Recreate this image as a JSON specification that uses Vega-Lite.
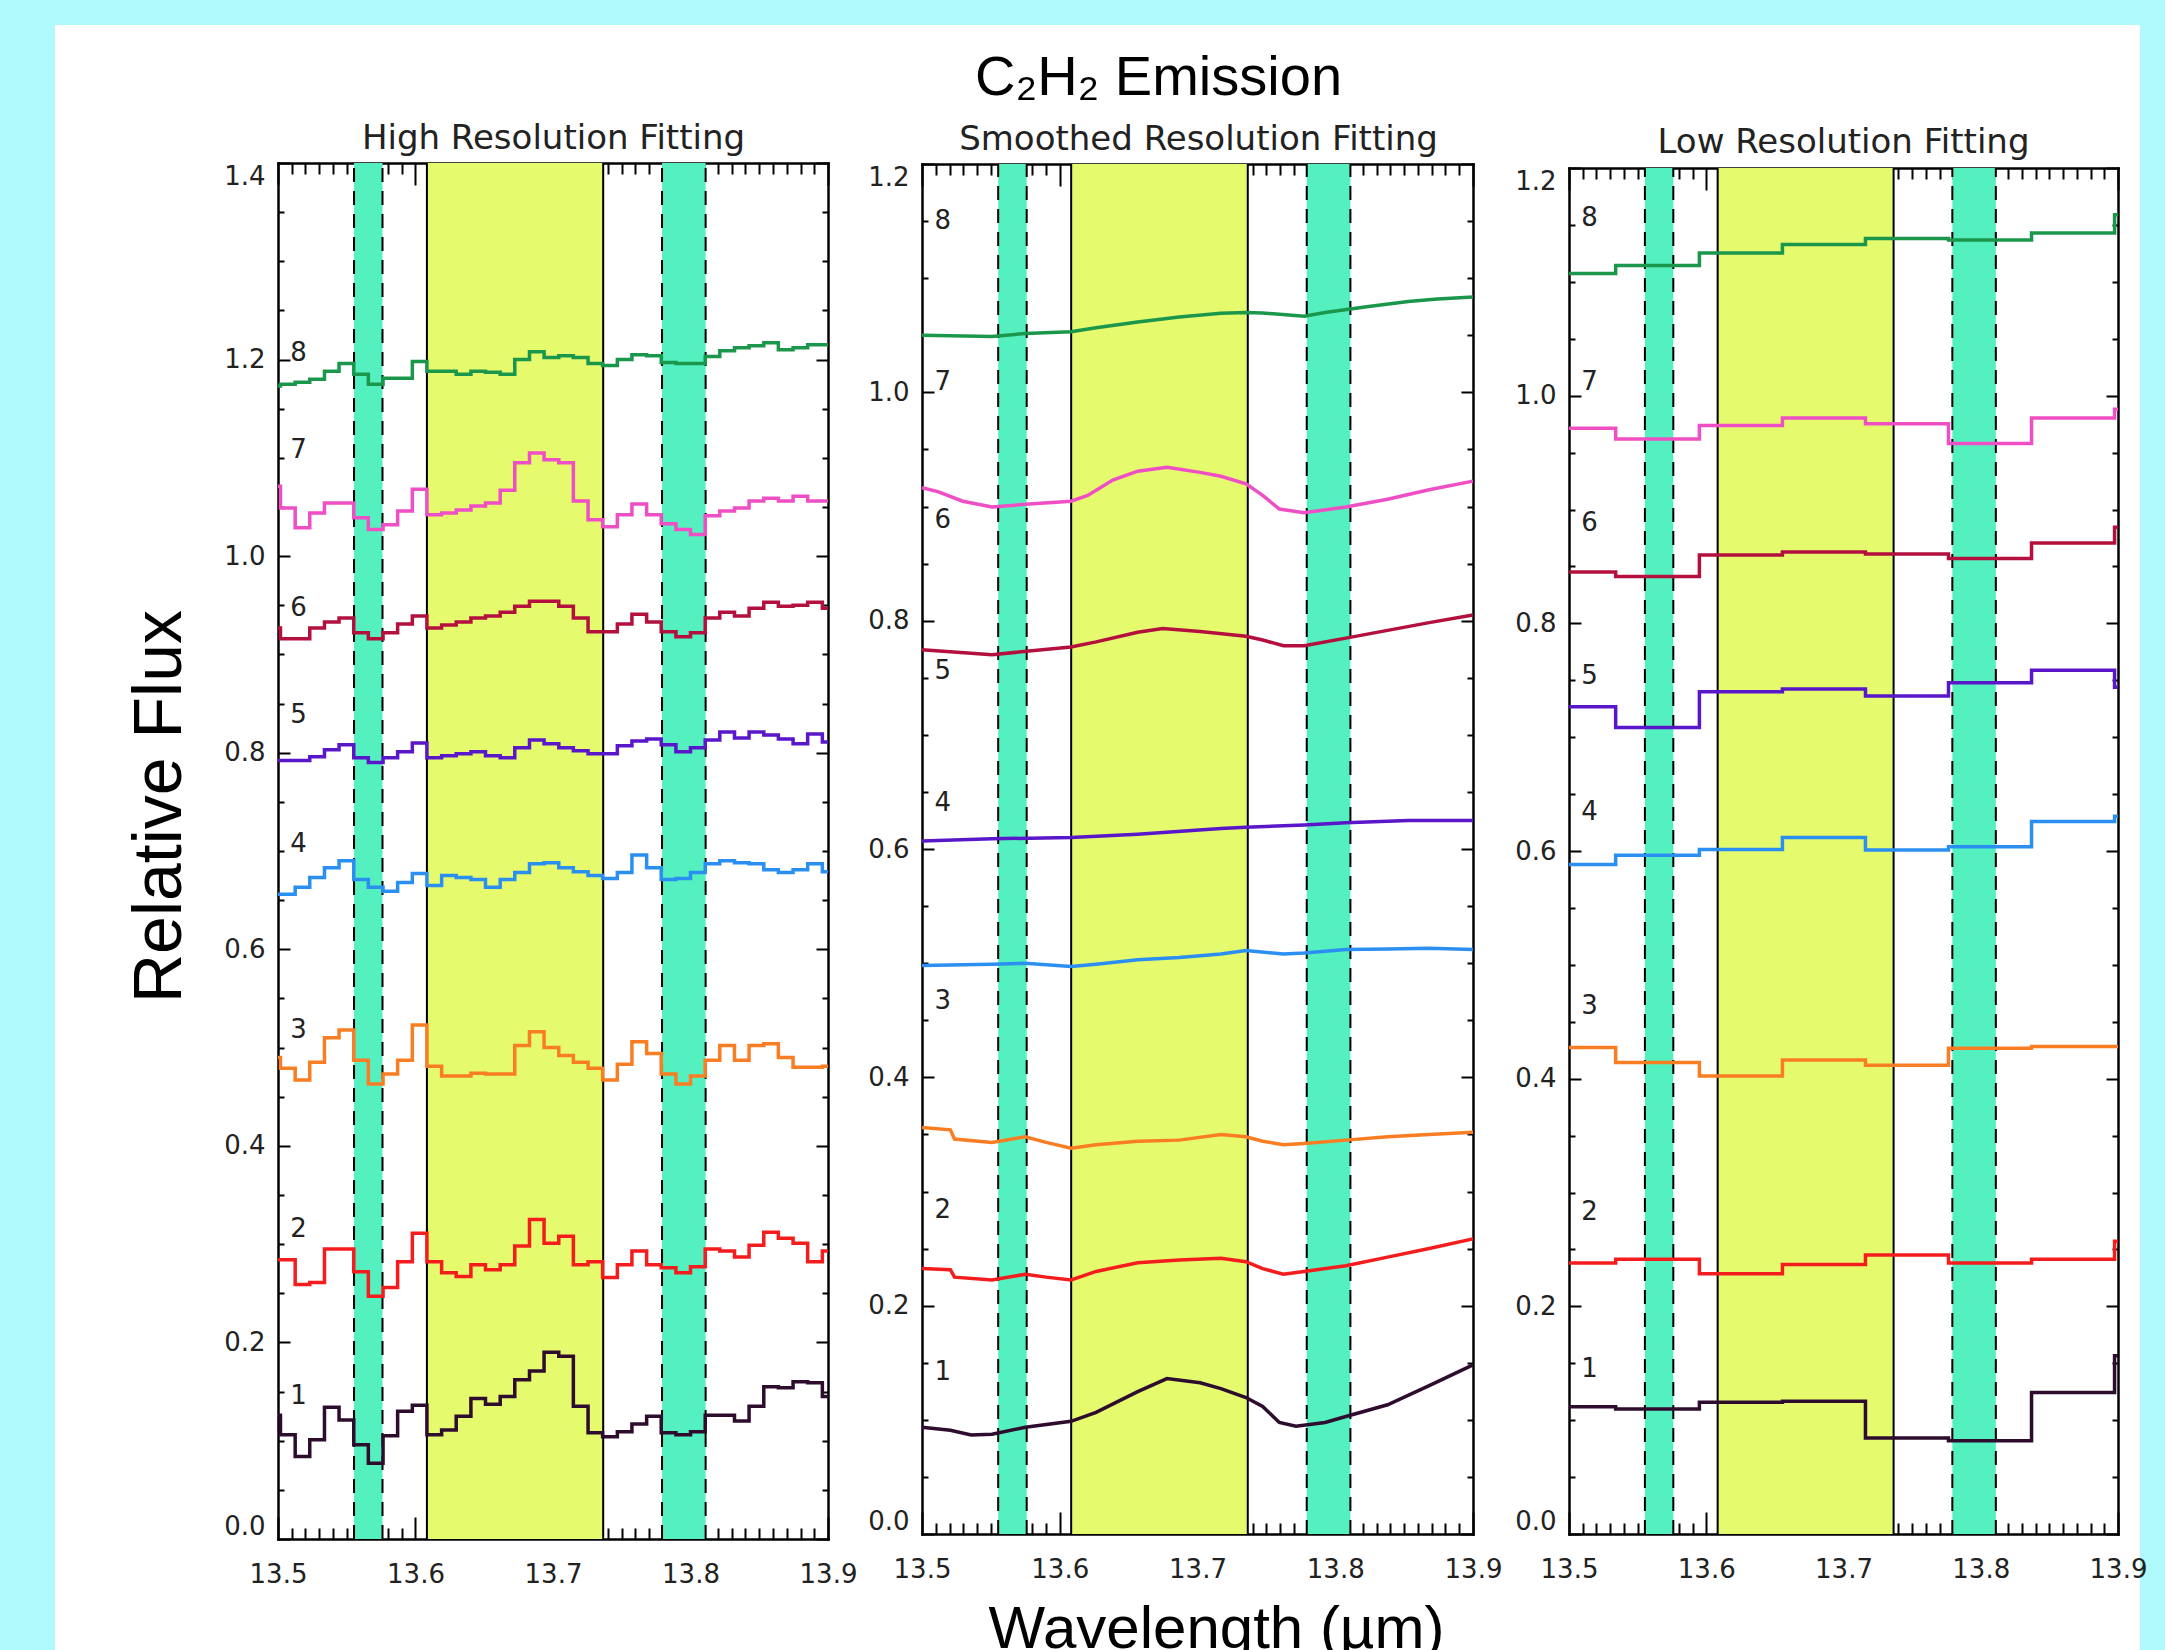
{
  "$schema": "https://vega.github.io/schema/vega-lite/v6.json",
  "background": "#b0fafd",
  "padding": {"left": 55, "top": 25, "right": 25, "bottom": 0},
  "autosize": {"type": "none"},
  "width": 2085,
  "height": 1625,
  "view": {"fill": "white", "stroke": null},
  "config": {
    "axis": {"grid": false},
    "font": "DejaVu Sans"
  },
  "datasets": {
    "hi": [
      {"wl":13.5,"s1":0.126,"s2":0.284,"s3":0.490,"s4":0.656,"s5":0.792,"s6":0.927,"s7":1.071,"s8":1.173},
      {"wl":13.5018,"s1":0.106,"s2":0.284,"s3":0.479,"s4":0.656,"s5":0.792,"s6":0.916,"s7":1.049,"s8":1.175},
      {"wl":13.5125,"s1":0.084,"s2":0.259,"s3":0.467,"s4":0.663,"s5":0.792,"s6":0.916,"s7":1.029,"s8":1.177},
      {"wl":13.5231,"s1":0.101,"s2":0.261,"s3":0.485,"s4":0.673,"s5":0.796,"s6":0.927,"s7":1.044,"s8":1.180},
      {"wl":13.5338,"s1":0.134,"s2":0.295,"s3":0.510,"s4":0.683,"s5":0.803,"s6":0.933,"s7":1.054,"s8":1.188},
      {"wl":13.5444,"s1":0.121,"s2":0.295,"s3":0.518,"s4":0.690,"s5":0.808,"s6":0.937,"s7":1.054,"s8":1.196},
      {"wl":13.5551,"s1":0.096,"s2":0.272,"s3":0.487,"s4":0.671,"s5":0.795,"s6":0.922,"s7":1.039,"s8":1.185},
      {"wl":13.5657,"s1":0.077,"s2":0.247,"s3":0.463,"s4":0.663,"s5":0.790,"s6":0.916,"s7":1.027,"s8":1.175},
      {"wl":13.5764,"s1":0.105,"s2":0.256,"s3":0.473,"s4":0.659,"s5":0.795,"s6":0.922,"s7":1.032,"s8":1.181},
      {"wl":13.587,"s1":0.130,"s2":0.282,"s3":0.487,"s4":0.668,"s5":0.801,"s6":0.931,"s7":1.046,"s8":1.181},
      {"wl":13.5977,"s1":0.136,"s2":0.311,"s3":0.523,"s4":0.677,"s5":0.810,"s6":0.939,"s7":1.068,"s8":1.198},
      {"wl":13.6083,"s1":0.106,"s2":0.282,"s3":0.481,"s4":0.665,"s5":0.795,"s6":0.927,"s7":1.042,"s8":1.188},
      {"wl":13.619,"s1":0.111,"s2":0.271,"s3":0.471,"s4":0.675,"s5":0.797,"s6":0.930,"s7":1.044,"s8":1.188},
      {"wl":13.6296,"s1":0.125,"s2":0.267,"s3":0.471,"s4":0.673,"s5":0.799,"s6":0.933,"s7":1.047,"s8":1.185},
      {"wl":13.6403,"s1":0.143,"s2":0.279,"s3":0.474,"s4":0.671,"s5":0.801,"s6":0.937,"s7":1.051,"s8":1.188},
      {"wl":13.6509,"s1":0.137,"s2":0.274,"s3":0.473,"s4":0.663,"s5":0.797,"s6":0.939,"s7":1.054,"s8":1.187},
      {"wl":13.6616,"s1":0.145,"s2":0.279,"s3":0.473,"s4":0.671,"s5":0.795,"s6":0.943,"s7":1.067,"s8":1.185},
      {"wl":13.6722,"s1":0.162,"s2":0.298,"s3":0.502,"s4":0.678,"s5":0.805,"s6":0.949,"s7":1.095,"s8":1.200},
      {"wl":13.6829,"s1":0.171,"s2":0.325,"s3":0.516,"s4":0.687,"s5":0.813,"s6":0.954,"s7":1.105,"s8":1.208},
      {"wl":13.6935,"s1":0.190,"s2":0.301,"s3":0.500,"s4":0.688,"s5":0.809,"s6":0.954,"s7":1.098,"s8":1.202},
      {"wl":13.7042,"s1":0.186,"s2":0.308,"s3":0.492,"s4":0.683,"s5":0.805,"s6":0.949,"s7":1.095,"s8":1.204},
      {"wl":13.7148,"s1":0.135,"s2":0.279,"s3":0.485,"s4":0.679,"s5":0.802,"s6":0.937,"s7":1.056,"s8":1.202},
      {"wl":13.7255,"s1":0.108,"s2":0.282,"s3":0.479,"s4":0.675,"s5":0.799,"s6":0.923,"s7":1.037,"s8":1.196},
      {"wl":13.7361,"s1":0.104,"s2":0.266,"s3":0.467,"s4":0.672,"s5":0.799,"s6":0.923,"s7":1.030,"s8":1.194},
      {"wl":13.7468,"s1":0.109,"s2":0.279,"s3":0.483,"s4":0.678,"s5":0.807,"s6":0.931,"s7":1.042,"s8":1.200},
      {"wl":13.7574,"s1":0.117,"s2":0.293,"s3":0.506,"s4":0.696,"s5":0.812,"s6":0.941,"s7":1.053,"s8":1.205},
      {"wl":13.7681,"s1":0.125,"s2":0.279,"s3":0.494,"s4":0.683,"s5":0.814,"s6":0.933,"s7":1.042,"s8":1.204},
      {"wl":13.7787,"s1":0.108,"s2":0.276,"s3":0.473,"s4":0.671,"s5":0.808,"s6":0.923,"s7":1.033,"s8":1.197},
      {"wl":13.7894,"s1":0.106,"s2":0.271,"s3":0.463,"s4":0.672,"s5":0.801,"s6":0.918,"s7":1.027,"s8":1.196},
      {"wl":13.8,"s1":0.109,"s2":0.277,"s3":0.471,"s4":0.678,"s5":0.805,"s6":0.922,"s7":1.022,"s8":1.196},
      {"wl":13.8107,"s1":0.126,"s2":0.295,"s3":0.487,"s4":0.687,"s5":0.813,"s6":0.937,"s7":1.041,"s8":1.203},
      {"wl":13.8213,"s1":0.126,"s2":0.293,"s3":0.502,"s4":0.690,"s5":0.821,"s6":0.943,"s7":1.046,"s8":1.209},
      {"wl":13.832,"s1":0.120,"s2":0.287,"s3":0.487,"s4":0.688,"s5":0.815,"s6":0.939,"s7":1.049,"s8":1.212},
      {"wl":13.8426,"s1":0.135,"s2":0.299,"s3":0.502,"s4":0.687,"s5":0.821,"s6":0.947,"s7":1.056,"s8":1.214},
      {"wl":13.8533,"s1":0.155,"s2":0.312,"s3":0.504,"s4":0.681,"s5":0.818,"s6":0.953,"s7":1.059,"s8":1.217},
      {"wl":13.8639,"s1":0.154,"s2":0.306,"s3":0.490,"s4":0.678,"s5":0.814,"s6":0.949,"s7":1.056,"s8":1.210},
      {"wl":13.8746,"s1":0.160,"s2":0.301,"s3":0.480,"s4":0.681,"s5":0.809,"s6":0.950,"s7":1.061,"s8":1.212},
      {"wl":13.8852,"s1":0.159,"s2":0.282,"s3":0.480,"s4":0.687,"s5":0.819,"s6":0.953,"s7":1.056,"s8":1.215},
      {"wl":13.8959,"s1":0.145,"s2":0.293,"s3":0.481,"s4":0.679,"s5":0.811,"s6":0.947,"s7":1.056,"s8":1.215},
      {"wl":13.9,"s1":0.145,"s2":0.293,"s3":0.481,"s4":0.679,"s5":0.811,"s6":0.947,"s7":1.056,"s8":1.215}
    ],
    "lo": [
      {"wl":13.5,"s1":0.1118,"s2":0.2381,"s3":0.4273,"s4":0.5882,"s5":0.7267,"s6":0.8451,"s7":0.9714,"s8":1.1073},
      {"wl":13.534,"s1":0.1099,"s2":0.2414,"s3":0.4141,"s4":0.5962,"s5":0.7086,"s6":0.8412,"s7":0.962,"s8":1.1143},
      {"wl":13.595,"s1":0.1157,"s2":0.2286,"s3":0.4024,"s4":0.6014,"s5":0.74,"s6":0.86,"s7":0.9737,"s8":1.1253},
      {"wl":13.6555,"s1":0.1166,"s2":0.2367,"s3":0.4165,"s4":0.6118,"s5":0.7424,"s6":0.8627,"s7":0.9804,"s8":1.1327},
      {"wl":13.716,"s1":0.0843,"s2":0.2452,"s3":0.4118,"s4":0.6009,"s5":0.7361,"s6":0.8608,"s7":0.9753,"s8":1.138},
      {"wl":13.7765,"s1":0.0819,"s2":0.2381,"s3":0.4268,"s4":0.6038,"s5":0.7478,"s6":0.8569,"s7":0.958,"s8":1.1367},
      {"wl":13.837,"s1":0.1243,"s2":0.2414,"s3":0.4282,"s4":0.6259,"s5":0.7588,"s6":0.8706,"s7":0.9804,"s8":1.143},
      {"wl":13.8975,"s1":0.1566,"s2":0.2571,"s3":0.4282,"s4":0.6306,"s5":0.7439,"s6":0.8843,"s7":0.988,"s8":1.159},
      {"wl":13.9,"s1":0.1566,"s2":0.2571,"s3":0.4282,"s4":0.6306,"s5":0.7439,"s6":0.8843,"s7":0.988,"s8":1.159}
    ],
    "sm": [
      {"series":"s8","wl":13.5,"flux":1.05},{"series":"s8","wl":13.5508,"flux":1.049},{"series":"s8","wl":13.575,"flux":1.0515},{"series":"s8","wl":13.6082,"flux":1.053},{"series":"s8","wl":13.6264,"flux":1.0565},{"series":"s8","wl":13.6566,"flux":1.0616},{"series":"s8","wl":13.6868,"flux":1.066},{"series":"s8","wl":13.717,"flux":1.0693},{"series":"s8","wl":13.7352,"flux":1.07},{"series":"s8","wl":13.7473,"flux":1.0695},{"series":"s8","wl":13.7775,"flux":1.0667},{"series":"s8","wl":13.7926,"flux":1.07},{"series":"s8","wl":13.8228,"flux":1.075},{"series":"s8","wl":13.853,"flux":1.0795},{"series":"s8","wl":13.8742,"flux":1.0818},{"series":"s8","wl":13.9,"flux":1.0835},
      {"series":"s7","wl":13.5,"flux":0.9164},{"series":"s7","wl":13.5115,"flux":0.913},{"series":"s7","wl":13.5296,"flux":0.9046},{"series":"s7","wl":13.5508,"flux":0.8995},{"series":"s7","wl":13.575,"flux":0.9019},{"series":"s7","wl":13.6082,"flux":0.9046},{"series":"s7","wl":13.6203,"flux":0.9097},{"series":"s7","wl":13.6385,"flux":0.9232},{"series":"s7","wl":13.6566,"flux":0.9309},{"series":"s7","wl":13.6778,"flux":0.9343},{"series":"s7","wl":13.7019,"flux":0.9299},{"series":"s7","wl":13.717,"flux":0.9265},{"series":"s7","wl":13.7352,"flux":0.9198},{"series":"s7","wl":13.7473,"flux":0.9097},{"series":"s7","wl":13.7594,"flux":0.8978},{"series":"s7","wl":13.7775,"flux":0.8945},{"series":"s7","wl":13.8077,"flux":0.8995},{"series":"s7","wl":13.838,"flux":0.9063},{"series":"s7","wl":13.8682,"flux":0.9147},{"series":"s7","wl":13.9,"flux":0.9222},
      {"series":"s6","wl":13.5,"flux":0.7746},{"series":"s6","wl":13.5508,"flux":0.7702},{"series":"s6","wl":13.6082,"flux":0.777},{"series":"s6","wl":13.6264,"flux":0.7814},{"series":"s6","wl":13.6566,"flux":0.7898},{"series":"s6","wl":13.6747,"flux":0.7932},{"series":"s6","wl":13.7019,"flux":0.7905},{"series":"s6","wl":13.7352,"flux":0.7864},{"series":"s6","wl":13.7473,"flux":0.7831},{"series":"s6","wl":13.7624,"flux":0.778},{"series":"s6","wl":13.7775,"flux":0.778},{"series":"s6","wl":13.8077,"flux":0.7847},{"series":"s6","wl":13.838,"flux":0.7915},{"series":"s6","wl":13.8682,"flux":0.7983},{"series":"s6","wl":13.9,"flux":0.805},
      {"series":"s5","wl":13.5,"flux":0.607},{"series":"s5","wl":13.5508,"flux":0.609},{"series":"s5","wl":13.6082,"flux":0.61},{"series":"s5","wl":13.6566,"flux":0.613},{"series":"s5","wl":13.717,"flux":0.618},{"series":"s5","wl":13.7352,"flux":0.619},{"series":"s5","wl":13.7775,"flux":0.621},{"series":"s5","wl":13.8077,"flux":0.623},{"series":"s5","wl":13.853,"flux":0.625},{"series":"s5","wl":13.9,"flux":0.625},
      {"series":"s4","wl":13.5,"flux":0.498},{"series":"s4","wl":13.5508,"flux":0.499},{"series":"s4","wl":13.575,"flux":0.5},{"series":"s4","wl":13.6082,"flux":0.497},{"series":"s4","wl":13.6264,"flux":0.499},{"series":"s4","wl":13.6566,"flux":0.503},{"series":"s4","wl":13.6868,"flux":0.505},{"series":"s4","wl":13.717,"flux":0.508},{"series":"s4","wl":13.7352,"flux":0.511},{"series":"s4","wl":13.7624,"flux":0.508},{"series":"s4","wl":13.7775,"flux":0.509},{"series":"s4","wl":13.8077,"flux":0.512},{"series":"s4","wl":13.838,"flux":0.5125},{"series":"s4","wl":13.8682,"flux":0.513},{"series":"s4","wl":13.9,"flux":0.512},
      {"series":"s3","wl":13.5,"flux":0.356},{"series":"s3","wl":13.5206,"flux":0.354},{"series":"s3","wl":13.5236,"flux":0.346},{"series":"s3","wl":13.5508,"flux":0.343},{"series":"s3","wl":13.575,"flux":0.348},{"series":"s3","wl":13.5901,"flux":0.343},{"series":"s3","wl":13.6082,"flux":0.338},{"series":"s3","wl":13.6264,"flux":0.341},{"series":"s3","wl":13.6566,"flux":0.344},{"series":"s3","wl":13.6868,"flux":0.345},{"series":"s3","wl":13.717,"flux":0.35},{"series":"s3","wl":13.7352,"flux":0.348},{"series":"s3","wl":13.7473,"flux":0.344},{"series":"s3","wl":13.7624,"flux":0.341},{"series":"s3","wl":13.7775,"flux":0.342},{"series":"s3","wl":13.8077,"flux":0.345},{"series":"s3","wl":13.838,"flux":0.348},{"series":"s3","wl":13.8682,"flux":0.35},{"series":"s3","wl":13.9,"flux":0.352},
      {"series":"s2","wl":13.5,"flux":0.2325},{"series":"s2","wl":13.5206,"flux":0.2315},{"series":"s2","wl":13.5236,"flux":0.225},{"series":"s2","wl":13.5508,"flux":0.2225},{"series":"s2","wl":13.575,"flux":0.2275},{"series":"s2","wl":13.5901,"flux":0.225},{"series":"s2","wl":13.6082,"flux":0.2225},{"series":"s2","wl":13.6143,"flux":0.225},{"series":"s2","wl":13.6264,"flux":0.23},{"series":"s2","wl":13.6566,"flux":0.2375},{"series":"s2","wl":13.6868,"flux":0.24},{"series":"s2","wl":13.717,"flux":0.2415},{"series":"s2","wl":13.7352,"flux":0.2385},{"series":"s2","wl":13.7473,"flux":0.2325},{"series":"s2","wl":13.7624,"flux":0.2275},{"series":"s2","wl":13.7775,"flux":0.23},{"series":"s2","wl":13.8077,"flux":0.235},{"series":"s2","wl":13.838,"flux":0.2425},{"series":"s2","wl":13.8682,"flux":0.25},{"series":"s2","wl":13.9,"flux":0.2585},
      {"series":"s1","wl":13.5,"flux":0.0935},{"series":"s1","wl":13.5206,"flux":0.0909},{"series":"s1","wl":13.5357,"flux":0.0868},{"series":"s1","wl":13.5508,"flux":0.0873},{"series":"s1","wl":13.575,"flux":0.0935},{"series":"s1","wl":13.6082,"flux":0.0987},{"series":"s1","wl":13.6264,"flux":0.1065},{"series":"s1","wl":13.6566,"flux":0.1247},{"series":"s1","wl":13.6778,"flux":0.1361},{"series":"s1","wl":13.7019,"flux":0.1325},{"series":"s1","wl":13.717,"flux":0.1273},{"series":"s1","wl":13.7352,"flux":0.1195},{"series":"s1","wl":13.7473,"flux":0.1117},{"series":"s1","wl":13.7594,"flux":0.0977},{"series":"s1","wl":13.7715,"flux":0.0945},{"series":"s1","wl":13.7926,"flux":0.0977},{"series":"s1","wl":13.8077,"flux":0.1029},{"series":"s1","wl":13.838,"flux":0.1132},{"series":"s1","wl":13.8682,"flux":0.1299},{"series":"s1","wl":13.9,"flux":0.1481}
    ],
    "bands": [
      {"kind":"emission","start":13.6083,"end":13.7365},
      {"kind":"continuum","start":13.5553,"end":13.576},
      {"kind":"continuum","start":13.7793,"end":13.811}
    ],
    "edges": [
      {"wl":13.6083,"style":"solid"},{"wl":13.7365,"style":"solid"},
      {"wl":13.5553,"style":"dashed"},{"wl":13.576,"style":"dashed"},
      {"wl":13.7793,"style":"dashed"},{"wl":13.811,"style":"dashed"}
    ],
    "labels": [
      {"panel":"hi","label":"1","wl":13.515,"flux":0.146},{"panel":"hi","label":"2","wl":13.515,"flux":0.315},{"panel":"hi","label":"3","wl":13.515,"flux":0.518},{"panel":"hi","label":"4","wl":13.515,"flux":0.707},{"panel":"hi","label":"5","wl":13.515,"flux":0.838},{"panel":"hi","label":"6","wl":13.515,"flux":0.947},{"panel":"hi","label":"7","wl":13.515,"flux":1.108},{"panel":"hi","label":"8","wl":13.515,"flux":1.207},
      {"panel":"sm","label":"1","wl":13.515,"flux":0.142},{"panel":"sm","label":"2","wl":13.515,"flux":0.284},{"panel":"sm","label":"3","wl":13.515,"flux":0.467},{"panel":"sm","label":"4","wl":13.515,"flux":0.64},{"panel":"sm","label":"5","wl":13.515,"flux":0.756},{"panel":"sm","label":"6","wl":13.515,"flux":0.888},{"panel":"sm","label":"7","wl":13.515,"flux":1.009},{"panel":"sm","label":"8","wl":13.515,"flux":1.15},
      {"panel":"lo","label":"1","wl":13.515,"flux":0.145},{"panel":"lo","label":"2","wl":13.515,"flux":0.283},{"panel":"lo","label":"3","wl":13.515,"flux":0.464},{"panel":"lo","label":"4","wl":13.515,"flux":0.634},{"panel":"lo","label":"5","wl":13.515,"flux":0.754},{"panel":"lo","label":"6","wl":13.515,"flux":0.888},{"panel":"lo","label":"7","wl":13.515,"flux":1.012},{"panel":"lo","label":"8","wl":13.515,"flux":1.156}
    ]
  },
  "resolve": {"scale": {"x": "independent", "y": "independent"}, "axis": {"x": "independent", "y": "independent"}},
  "layer": [
    {
      "data": {"name": "bands"},
      "mark": {"type": "rect"},
      "encoding": {
        "x": {"field": "start", "type": "quantitative", "scale": {"domain": [13.5, 13.9], "range": [223, 773], "nice": false, "zero": false}, "axis": null},
        "x2": {"field": "end"},
        "y": {"datum": 0, "type": "quantitative", "scale": {"domain": [0, 1.4], "range": [1514, 138], "nice": false, "zero": false}, "axis": null},
        "y2": {"datum": 1.4},
        "fill": {"field": "kind", "type": "nominal", "scale": {"domain": ["emission", "continuum"], "range": ["#e6fa6e", "#55f0c0"]}, "legend": null}
      }
    },
    {
      "data": {"name": "edges"},
      "mark": {"type": "rule", "color": "black", "strokeWidth": 2},
      "encoding": {
        "x": {"field": "wl", "type": "quantitative", "scale": {"domain": [13.5, 13.9], "range": [223, 773], "nice": false, "zero": false}, "axis": null},
        "y": {"datum": 0, "type": "quantitative", "scale": {"domain": [0, 1.4], "range": [1514, 138], "nice": false, "zero": false}, "axis": null},
        "y2": {"datum": 1.4},
        "strokeDash": {"field": "style", "type": "nominal", "scale": {"domain": ["solid", "dashed"], "range": [[1, 0], [14, 9]]}, "legend": null}
      }
    },
    {
      "data": {"name": "hi"},
      "transform": [{"fold": ["s1","s2","s3","s4","s5","s6","s7","s8"], "as": ["series", "flux"]}],
      "mark": {"type": "line", "interpolate": "step-after", "strokeWidth": 3.5},
      "encoding": {
        "x": {"field": "wl", "type": "quantitative", "scale": {"domain": [13.5, 13.9], "range": [223, 773], "nice": false, "zero": false},
          "axis": {"orient": "bottom", "offset": -111, "domain": true, "domainColor": "black", "domainWidth": 2.5, "domainCap": "square",
            "values": [13.5,13.51,13.52,13.53,13.54,13.55,13.56,13.57,13.58,13.59,13.6,13.61,13.62,13.63,13.64,13.65,13.66,13.67,13.68,13.69,13.7,13.71,13.72,13.73,13.74,13.75,13.76,13.77,13.78,13.79,13.8,13.81,13.82,13.83,13.84,13.85,13.86,13.87,13.88,13.89,13.9],
            "tickColor": "black", "tickWidth": 2,
            "tickSize": {"condition": {"test": "abs(datum.value*10-round(datum.value*10))<0.001", "value": -22}, "value": -11},
            "labelExpr": "abs(datum.value*10-round(datum.value*10))<0.001 ? format(datum.value,'.1f') : ''",
            "labelPadding": 44, "labelFont": "DejaVu Sans", "labelFontSize": 26, "labelColor": "#222", "labelFlush": false, "labelOverlap": false, "title": null}},
        "y": {"field": "flux", "type": "quantitative", "scale": {"domain": [0, 1.4], "range": [1514, 138], "nice": false, "zero": false},
          "axis": {"orient": "left", "offset": -223, "domain": true, "domainColor": "black", "domainWidth": 2.5, "domainCap": "square",
            "values": [0,0.05,0.1,0.15,0.2,0.25,0.3,0.35,0.4,0.45,0.5,0.55,0.6,0.65,0.7,0.75,0.8,0.85,0.9,0.95,1,1.05,1.1,1.15,1.2,1.25,1.3,1.35,1.4],
            "tickColor": "black", "tickWidth": 2,
            "tickSize": {"condition": {"test": "abs(datum.value*5-round(datum.value*5))<0.001", "value": -12}, "value": -6},
            "labelExpr": "abs(datum.value*5-round(datum.value*5))<0.001 ? format(datum.value,'.1f') : ''",
            "labelPadding": 25, "labelFont": "DejaVu Sans", "labelFontSize": 26, "labelColor": "#222", "labelFlush": true, "labelOverlap": false,
            "title": "Relative Flux", "titleFont": "Liberation Sans", "titleFontSize": 68, "titleFontWeight": "normal", "titleColor": "black",
            "titleAngle": 270, "titleX": -98, "titleY": 781, "titleBaseline": "alphabetic", "titleAlign": "center"}},
        "color": {"field": "series", "type": "nominal", "scale": {"domain": ["s1","s2","s3","s4","s5","s6","s7","s8"], "range": ["#2e0c2e","#f41c1c","#f97d22","#2b8ff2","#5a17c9","#b3103e","#ee4fc4","#1b974c"]}, "legend": null}
      }
    },
    {
      "data": {"name": "labels"},
      "transform": [{"filter": "datum.panel == 'hi'"}],
      "mark": {"type": "text", "font": "DejaVu Sans", "fontSize": 26, "align": "center", "baseline": "middle", "color": "#222"},
      "encoding": {
        "x": {"field": "wl", "type": "quantitative", "scale": {"domain": [13.5, 13.9], "range": [223, 773], "nice": false, "zero": false},
          "axis": {"orient": "top", "offset": -138, "domain": true, "domainColor": "black", "domainWidth": 2.5, "domainCap": "square",
            "values": [13.5,13.51,13.52,13.53,13.54,13.55,13.56,13.57,13.58,13.59,13.6,13.61,13.62,13.63,13.64,13.65,13.66,13.67,13.68,13.69,13.7,13.71,13.72,13.73,13.74,13.75,13.76,13.77,13.78,13.79,13.8,13.81,13.82,13.83,13.84,13.85,13.86,13.87,13.88,13.89,13.9],
            "tickColor": "black", "tickWidth": 2,
            "tickSize": {"condition": {"test": "abs(datum.value*10-round(datum.value*10))<0.001", "value": -22}, "value": -11},
            "labels": false,
            "title": "High Resolution Fitting", "titleFont": "DejaVu Sans", "titleFontSize": 34, "titleFontWeight": "normal", "titleColor": "#222",
            "titleX": 498, "titleY": -15, "titleBaseline": "alphabetic", "titleAlign": "center"}},
        "y": {"field": "flux", "type": "quantitative", "scale": {"domain": [0, 1.4], "range": [1514, 138], "nice": false, "zero": false},
          "axis": {"orient": "right", "offset": -1312, "domain": true, "domainColor": "black", "domainWidth": 2.5, "domainCap": "square",
            "values": [0,0.05,0.1,0.15,0.2,0.25,0.3,0.35,0.4,0.45,0.5,0.55,0.6,0.65,0.7,0.75,0.8,0.85,0.9,0.95,1,1.05,1.1,1.15,1.2,1.25,1.3,1.35,1.4],
            "tickColor": "black", "tickWidth": 2,
            "tickSize": {"condition": {"test": "abs(datum.value*5-round(datum.value*5))<0.001", "value": -12}, "value": -6},
            "labels": false, "title": null}},
        "text": {"field": "label", "type": "nominal"}
      }
    },
    {
      "data": {"name": "bands"},
      "mark": {"type": "rect"},
      "encoding": {
        "x": {"field": "start", "type": "quantitative", "scale": {"domain": [13.5, 13.9], "range": [867, 1418], "nice": false, "zero": false},
          "axis": {"orient": "top", "offset": -139, "domain": false, "ticks": false, "labels": false,
            "title": "C₂H₂ Emission", "titleFont": "Liberation Sans", "titleFontSize": 56, "titleFontWeight": "normal", "titleColor": "black",
            "titleX": 1103, "titleY": -70, "titleBaseline": "alphabetic", "titleAlign": "center"}},
        "x2": {"field": "end"},
        "y": {"datum": 0, "type": "quantitative", "scale": {"domain": [0, 1.2], "range": [1509, 139], "nice": false, "zero": false}, "axis": null},
        "y2": {"datum": 1.2},
        "fill": {"field": "kind", "type": "nominal", "scale": {"domain": ["emission", "continuum"], "range": ["#e6fa6e", "#55f0c0"]}, "legend": null}
      }
    },
    {
      "data": {"name": "edges"},
      "mark": {"type": "rule", "color": "black", "strokeWidth": 2},
      "encoding": {
        "x": {"field": "wl", "type": "quantitative", "scale": {"domain": [13.5, 13.9], "range": [867, 1418], "nice": false, "zero": false}, "axis": null},
        "y": {"datum": 0, "type": "quantitative", "scale": {"domain": [0, 1.2], "range": [1509, 139], "nice": false, "zero": false}, "axis": null},
        "y2": {"datum": 1.2},
        "strokeDash": {"field": "style", "type": "nominal", "scale": {"domain": ["solid", "dashed"], "range": [[1, 0], [14, 9]]}, "legend": null}
      }
    },
    {
      "data": {"name": "sm"},
      "mark": {"type": "line", "strokeWidth": 3.5},
      "encoding": {
        "x": {"field": "wl", "type": "quantitative", "scale": {"domain": [13.5, 13.9], "range": [867, 1418], "nice": false, "zero": false},
          "axis": {"orient": "bottom", "offset": -116, "domain": true, "domainColor": "black", "domainWidth": 2.5, "domainCap": "square",
            "values": [13.5,13.51,13.52,13.53,13.54,13.55,13.56,13.57,13.58,13.59,13.6,13.61,13.62,13.63,13.64,13.65,13.66,13.67,13.68,13.69,13.7,13.71,13.72,13.73,13.74,13.75,13.76,13.77,13.78,13.79,13.8,13.81,13.82,13.83,13.84,13.85,13.86,13.87,13.88,13.89,13.9],
            "tickColor": "black", "tickWidth": 2,
            "tickSize": {"condition": {"test": "abs(datum.value*10-round(datum.value*10))<0.001", "value": -22}, "value": -11},
            "labelExpr": "abs(datum.value*10-round(datum.value*10))<0.001 ? format(datum.value,'.1f') : ''",
            "labelPadding": 44, "labelFont": "DejaVu Sans", "labelFontSize": 26, "labelColor": "#222", "labelFlush": false, "labelOverlap": false,
            "title": "Wavelength (µm)", "titleFont": "Liberation Sans", "titleFontSize": 60, "titleFontWeight": "normal", "titleColor": "black",
            "titleX": 1161, "titleY": 66, "titleBaseline": "top", "titleAlign": "center"}},
        "y": {"field": "flux", "type": "quantitative", "scale": {"domain": [0, 1.2], "range": [1509, 139], "nice": false, "zero": false},
          "axis": {"orient": "left", "offset": -867, "domain": true, "domainColor": "black", "domainWidth": 2.5, "domainCap": "square",
            "values": [0,0.05,0.1,0.15,0.2,0.25,0.3,0.35,0.4,0.45,0.5,0.55,0.6,0.65,0.7,0.75,0.8,0.85,0.9,0.95,1,1.05,1.1,1.15,1.2],
            "tickColor": "black", "tickWidth": 2,
            "tickSize": {"condition": {"test": "abs(datum.value*5-round(datum.value*5))<0.001", "value": -12}, "value": -6},
            "labelExpr": "abs(datum.value*5-round(datum.value*5))<0.001 ? format(datum.value,'.1f') : ''",
            "labelPadding": 25, "labelFont": "DejaVu Sans", "labelFontSize": 26, "labelColor": "#222", "labelFlush": true, "labelOverlap": false, "title": null}},
        "color": {"field": "series", "type": "nominal", "scale": {"domain": ["s1","s2","s3","s4","s5","s6","s7","s8"], "range": ["#2e0c2e","#f41c1c","#f97d22","#2b8ff2","#5a17c9","#b3103e","#ee4fc4","#1b974c"]}, "legend": null}
      }
    },
    {
      "data": {"name": "labels"},
      "transform": [{"filter": "datum.panel == 'sm'"}],
      "mark": {"type": "text", "font": "DejaVu Sans", "fontSize": 26, "align": "center", "baseline": "middle", "color": "#222"},
      "encoding": {
        "x": {"field": "wl", "type": "quantitative", "scale": {"domain": [13.5, 13.9], "range": [867, 1418], "nice": false, "zero": false},
          "axis": {"orient": "top", "offset": -139, "domain": true, "domainColor": "black", "domainWidth": 2.5, "domainCap": "square",
            "values": [13.5,13.51,13.52,13.53,13.54,13.55,13.56,13.57,13.58,13.59,13.6,13.61,13.62,13.63,13.64,13.65,13.66,13.67,13.68,13.69,13.7,13.71,13.72,13.73,13.74,13.75,13.76,13.77,13.78,13.79,13.8,13.81,13.82,13.83,13.84,13.85,13.86,13.87,13.88,13.89,13.9],
            "tickColor": "black", "tickWidth": 2,
            "tickSize": {"condition": {"test": "abs(datum.value*10-round(datum.value*10))<0.001", "value": -22}, "value": -11},
            "labels": false,
            "title": "Smoothed Resolution Fitting", "titleFont": "DejaVu Sans", "titleFontSize": 34, "titleFontWeight": "normal", "titleColor": "#222",
            "titleX": 1143, "titleY": -15, "titleBaseline": "alphabetic", "titleAlign": "center"}},
        "y": {"field": "flux", "type": "quantitative", "scale": {"domain": [0, 1.2], "range": [1509, 139], "nice": false, "zero": false},
          "axis": {"orient": "right", "offset": -667, "domain": true, "domainColor": "black", "domainWidth": 2.5, "domainCap": "square",
            "values": [0,0.05,0.1,0.15,0.2,0.25,0.3,0.35,0.4,0.45,0.5,0.55,0.6,0.65,0.7,0.75,0.8,0.85,0.9,0.95,1,1.05,1.1,1.15,1.2],
            "tickColor": "black", "tickWidth": 2,
            "tickSize": {"condition": {"test": "abs(datum.value*5-round(datum.value*5))<0.001", "value": -12}, "value": -6},
            "labels": false, "title": null}},
        "text": {"field": "label", "type": "nominal"}
      }
    },
    {
      "data": {"name": "bands"},
      "mark": {"type": "rect"},
      "encoding": {
        "x": {"field": "start", "type": "quantitative", "scale": {"domain": [13.5, 13.9], "range": [1514, 2063], "nice": false, "zero": false}, "axis": null},
        "x2": {"field": "end"},
        "y": {"datum": 0, "type": "quantitative", "scale": {"domain": [0, 1.2], "range": [1509, 143], "nice": false, "zero": false}, "axis": null},
        "y2": {"datum": 1.2},
        "fill": {"field": "kind", "type": "nominal", "scale": {"domain": ["emission", "continuum"], "range": ["#e6fa6e", "#55f0c0"]}, "legend": null}
      }
    },
    {
      "data": {"name": "edges"},
      "mark": {"type": "rule", "color": "black", "strokeWidth": 2},
      "encoding": {
        "x": {"field": "wl", "type": "quantitative", "scale": {"domain": [13.5, 13.9], "range": [1514, 2063], "nice": false, "zero": false}, "axis": null},
        "y": {"datum": 0, "type": "quantitative", "scale": {"domain": [0, 1.2], "range": [1509, 143], "nice": false, "zero": false}, "axis": null},
        "y2": {"datum": 1.2},
        "strokeDash": {"field": "style", "type": "nominal", "scale": {"domain": ["solid", "dashed"], "range": [[1, 0], [14, 9]]}, "legend": null}
      }
    },
    {
      "data": {"name": "lo"},
      "transform": [{"fold": ["s1","s2","s3","s4","s5","s6","s7","s8"], "as": ["series", "flux"]}],
      "mark": {"type": "line", "interpolate": "step-after", "strokeWidth": 3.5},
      "encoding": {
        "x": {"field": "wl", "type": "quantitative", "scale": {"domain": [13.5, 13.9], "range": [1514, 2063], "nice": false, "zero": false},
          "axis": {"orient": "bottom", "offset": -116, "domain": true, "domainColor": "black", "domainWidth": 2.5, "domainCap": "square",
            "values": [13.5,13.51,13.52,13.53,13.54,13.55,13.56,13.57,13.58,13.59,13.6,13.61,13.62,13.63,13.64,13.65,13.66,13.67,13.68,13.69,13.7,13.71,13.72,13.73,13.74,13.75,13.76,13.77,13.78,13.79,13.8,13.81,13.82,13.83,13.84,13.85,13.86,13.87,13.88,13.89,13.9],
            "tickColor": "black", "tickWidth": 2,
            "tickSize": {"condition": {"test": "abs(datum.value*10-round(datum.value*10))<0.001", "value": -22}, "value": -11},
            "labelExpr": "abs(datum.value*10-round(datum.value*10))<0.001 ? format(datum.value,'.1f') : ''",
            "labelPadding": 44, "labelFont": "DejaVu Sans", "labelFontSize": 26, "labelColor": "#222", "labelFlush": false, "labelOverlap": false, "title": null}},
        "y": {"field": "flux", "type": "quantitative", "scale": {"domain": [0, 1.2], "range": [1509, 143], "nice": false, "zero": false},
          "axis": {"orient": "left", "offset": -1514, "domain": true, "domainColor": "black", "domainWidth": 2.5, "domainCap": "square",
            "values": [0,0.05,0.1,0.15,0.2,0.25,0.3,0.35,0.4,0.45,0.5,0.55,0.6,0.65,0.7,0.75,0.8,0.85,0.9,0.95,1,1.05,1.1,1.15,1.2],
            "tickColor": "black", "tickWidth": 2,
            "tickSize": {"condition": {"test": "abs(datum.value*5-round(datum.value*5))<0.001", "value": -12}, "value": -6},
            "labelExpr": "abs(datum.value*5-round(datum.value*5))<0.001 ? format(datum.value,'.1f') : ''",
            "labelPadding": 25, "labelFont": "DejaVu Sans", "labelFontSize": 26, "labelColor": "#222", "labelFlush": true, "labelOverlap": false, "title": null}},
        "color": {"field": "series", "type": "nominal", "scale": {"domain": ["s1","s2","s3","s4","s5","s6","s7","s8"], "range": ["#2e0c2e","#f41c1c","#f97d22","#2b8ff2","#5a17c9","#b3103e","#ee4fc4","#1b974c"]}, "legend": null}
      }
    },
    {
      "data": {"name": "labels"},
      "transform": [{"filter": "datum.panel == 'lo'"}],
      "mark": {"type": "text", "font": "DejaVu Sans", "fontSize": 26, "align": "center", "baseline": "middle", "color": "#222"},
      "encoding": {
        "x": {"field": "wl", "type": "quantitative", "scale": {"domain": [13.5, 13.9], "range": [1514, 2063], "nice": false, "zero": false},
          "axis": {"orient": "top", "offset": -143, "domain": true, "domainColor": "black", "domainWidth": 2.5, "domainCap": "square",
            "values": [13.5,13.51,13.52,13.53,13.54,13.55,13.56,13.57,13.58,13.59,13.6,13.61,13.62,13.63,13.64,13.65,13.66,13.67,13.68,13.69,13.7,13.71,13.72,13.73,13.74,13.75,13.76,13.77,13.78,13.79,13.8,13.81,13.82,13.83,13.84,13.85,13.86,13.87,13.88,13.89,13.9],
            "tickColor": "black", "tickWidth": 2,
            "tickSize": {"condition": {"test": "abs(datum.value*10-round(datum.value*10))<0.001", "value": -22}, "value": -11},
            "labels": false,
            "title": "Low Resolution Fitting", "titleFont": "DejaVu Sans", "titleFontSize": 34, "titleFontWeight": "normal", "titleColor": "#222",
            "titleX": 1788, "titleY": -16, "titleBaseline": "alphabetic", "titleAlign": "center"}},
        "y": {"field": "flux", "type": "quantitative", "scale": {"domain": [0, 1.2], "range": [1509, 143], "nice": false, "zero": false},
          "axis": {"orient": "right", "offset": -22, "domain": true, "domainColor": "black", "domainWidth": 2.5, "domainCap": "square",
            "values": [0,0.05,0.1,0.15,0.2,0.25,0.3,0.35,0.4,0.45,0.5,0.55,0.6,0.65,0.7,0.75,0.8,0.85,0.9,0.95,1,1.05,1.1,1.15,1.2],
            "tickColor": "black", "tickWidth": 2,
            "tickSize": {"condition": {"test": "abs(datum.value*5-round(datum.value*5))<0.001", "value": -12}, "value": -6},
            "labels": false, "title": null}},
        "text": {"field": "label", "type": "nominal"}
      }
    }
  ]
}
